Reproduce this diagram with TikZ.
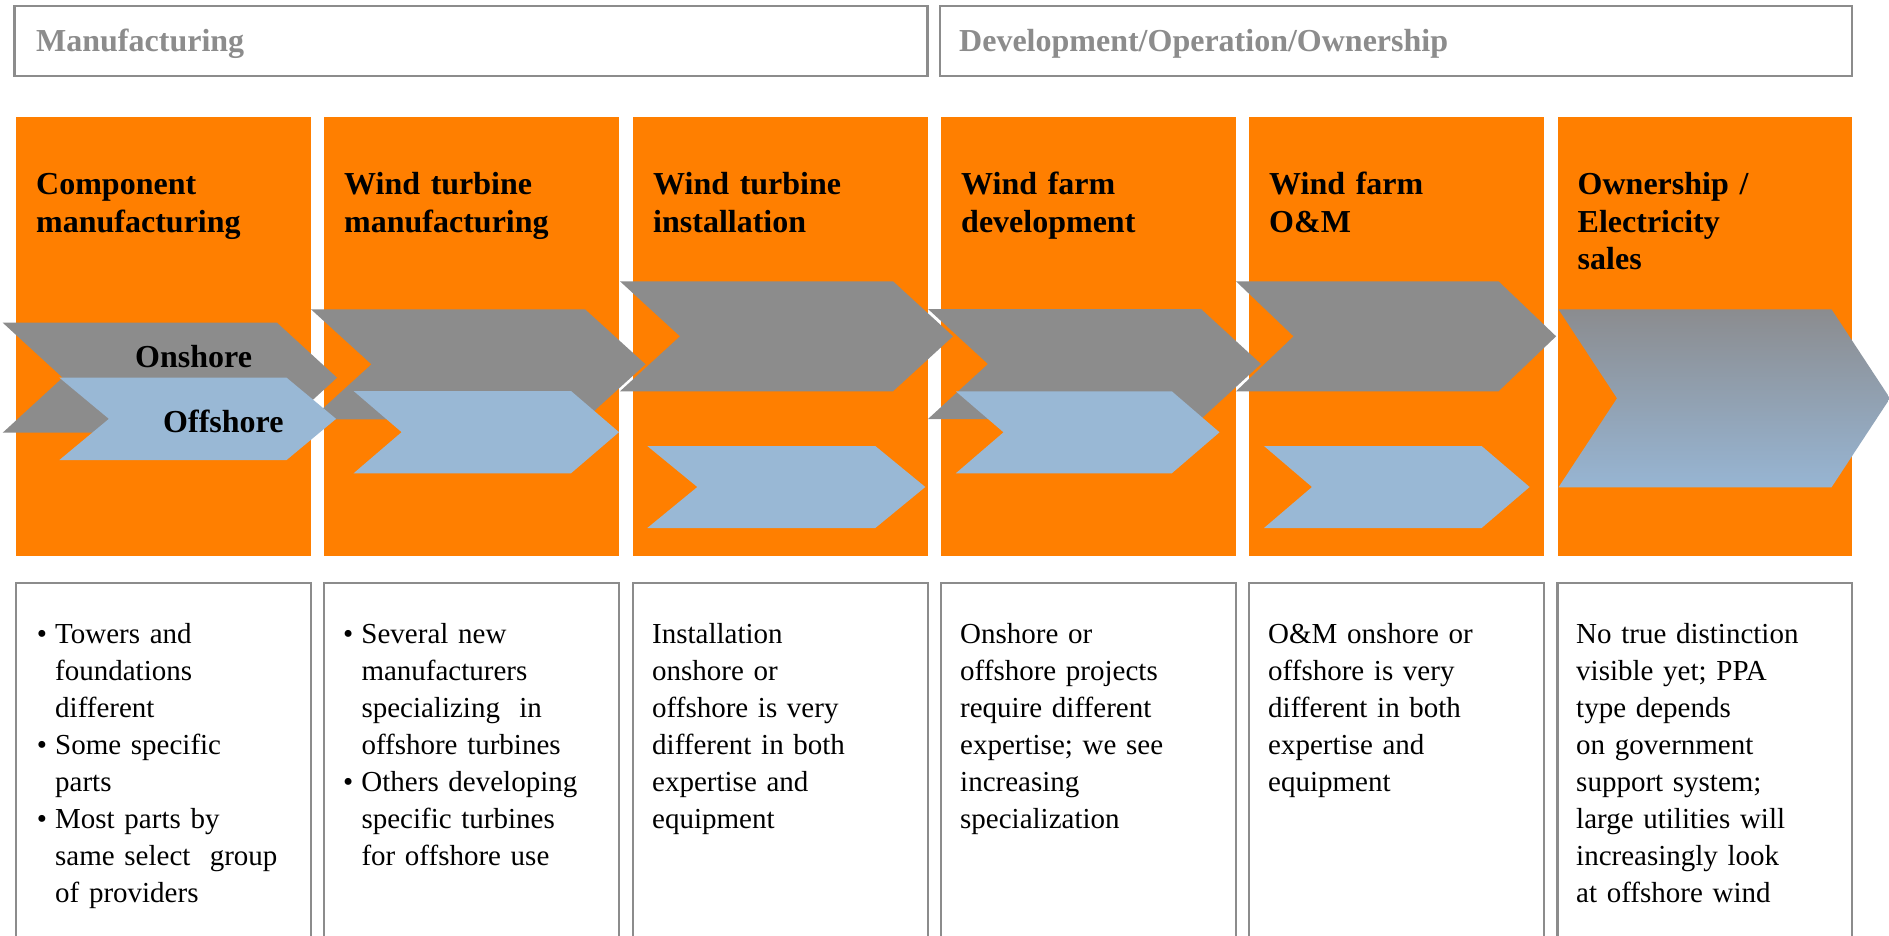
\documentclass[tikz,border=0pt]{standalone}
\usepackage{fontspec}
\setmainfont{Liberation Serif}
\definecolor{colorange}{RGB}{255,127,0}
\definecolor{chevgray}{RGB}{140,140,140}
\definecolor{chevblue}{RGB}{153,184,213}
\definecolor{framegray}{RGB}{140,140,140}
\definecolor{gradtop}{RGB}{139,140,143}
\definecolor{gradbot}{RGB}{151,181,211}
% #1 style, #2 x of top-left, #3 y of top, #4 length of top edge, #5 height, #6 depth of notch/tip
\newcommand{\chevron}[6]{%
  \path[#1] (#2,#3) -- ++(#4,0) -- ++(#6,#5/2) -- ++(-#6,#5/2) -- ++(-#4,0) -- ++(#6,-#5/2) -- cycle;}
\newcommand{\bul}{\makebox[18.3pt][l]{•}}
\newcommand{\ind}{\hspace*{18.3pt}}
\begin{document}
\begin{tikzpicture}[x=1pt,y=-1pt,
  colbox/.style={fill=colorange, draw=none, inner sep=0pt, outer sep=0pt, anchor=north west, minimum width=295pt, minimum height=439pt},
  headbox/.style={draw=framegray, line width=2.2pt, fill=white, inner sep=0pt, outer sep=0pt, anchor=north west, minimum height=70pt},
  notebox/.style={draw=framegray, line width=2.4pt, fill=white, inner sep=0pt, outer sep=0pt, anchor=north west, minimum width=294pt, minimum height=420pt},
  graychev/.style={fill=chevgray},
  bluechev/.style={fill=chevblue},
  gradchev/.style={top color=gradtop, bottom color=gradbot},
  headtext/.style={anchor=base west, inner sep=0pt, text=framegray, font=\fontsize{32}{37}\selectfont\bfseries},
  titletext/.style={anchor=base west, inner sep=0pt, align=left, text width=275pt, font=\fontsize{32}{37}\selectfont\bfseries},
  bodytext/.style={anchor=base west, inner sep=0pt, align=left, text width=285pt, font=\fontsize{29}{37}\selectfont},
  chevlabel/.style={anchor=base west, inner sep=0pt, font=\fontsize{32}{37}\selectfont\bfseries}]
\useasboundingbox (0,0) rectangle (1889,936);
\clip (0,0) rectangle (1889,936);
\fill[white] (0,0) rectangle (1889,936);
% header boxes
\node[headbox, minimum width=913pt] (hman) at (14.5,6) {};
\node[headbox, minimum width=912pt] (hdev) at (940,6) {};
\node[headtext] (hmantext) at (36,52) {Manufacturing};
\node[headtext] (hdevtext) at (959,52) {Development/Operation/Ownership};
% orange columns
\node[colbox] (c1) at (16,117) {};
\node[colbox] (c2) at (324,117) {};
\node[colbox] (c3) at (633,117) {};
\node[colbox] (c4) at (941,117) {};
\node[colbox] (c5) at (1249,117) {};
\node[colbox, minimum width=294.5pt] (c6) at (1557.5,117) {};
% note boxes
\node[notebox, minimum width=295pt] (n1) at (16,583) {};
\node[notebox, minimum width=295pt] (n2) at (324,583) {};
\node[notebox, minimum width=295pt] (n3) at (633,583) {};
\node[notebox, minimum width=295pt] (n4) at (941,583) {};
\node[notebox, minimum width=295pt] (n5) at (1249,583) {};
\node[notebox, minimum width=294.5pt] (n6) at (1557.5,583) {};
% gray (onshore) chevrons
\chevron{graychev}{2.7}{322.7}{274.3}{110}{60}
\chevron{graychev}{311}{309.3}{274}{110}{60.5}
\chevron{graychev}{620}{281.3}{273}{110}{60}
\chevron{graychev}{928}{309}{273}{110}{60}
\chevron{graychev}{1236}{281.3}{262.5}{110}{57.6}
% blue (offshore) chevrons
\chevron{bluechev}{59.4}{377.7}{227.2}{82.3}{49.5}
\chevron{bluechev}{353.6}{391}{217.4}{82.3}{48}
\chevron{bluechev}{647.3}{446}{228}{82}{50}
\chevron{bluechev}{955.8}{391.3}{216}{82}{47.7}
\chevron{bluechev}{1264}{446}{217.6}{82}{48}
% merged chevron
\chevron{gradchev}{1558.5}{309.3}{273}{178}{58.5}
% chevron labels
\node[chevlabel] (lon) at (135,367.3) {Onshore};
\node[chevlabel] (loff) at (163,432.3) {Offshore};
% column titles
\node[titletext] (t1) at (36,195) {Component\\manufacturing};
\node[titletext] (t2) at (344,195) {Wind turbine\\manufacturing};
\node[titletext] (t3) at (653,195) {Wind turbine\\installation};
\node[titletext] (t4) at (961,195) {Wind farm\\development};
\node[titletext] (t5) at (1269,195) {Wind farm\\O\&M};
\node[titletext] (t6) at (1577.5,195) {Ownership /\\Electricity\\sales};
% column notes
\node[bodytext] (b1) at (36.7,643) {\bul Towers and\\\ind foundations\\\ind different\\\bul Some specific\\\ind parts\\\bul Most parts by\\\ind same select\ \ group\\\ind of providers};
\node[bodytext] (b2) at (343,643) {\bul Several new\\\ind manufacturers\\\ind specializing\ \ in\\\ind offshore turbines\\\bul Others developing\\\ind specific turbines\\\ind for offshore use};
\node[bodytext] (b3) at (652,643) {Installation\\onshore or\\offshore is very\\different in both\\expertise and\\equipment};
\node[bodytext] (b4) at (960,643) {Onshore or\\offshore projects\\require different\\expertise; we see\\increasing\\specialization};
\node[bodytext] (b5) at (1268,643) {O\&M onshore or\\offshore is very\\different in both\\expertise and\\equipment};
\node[bodytext] (b6) at (1576,643) {No true distinction\\visible yet; PPA\\type depends\\on government\\support system;\\large utilities will\\increasingly look\\at offshore wind};
\end{tikzpicture}
\end{document}
